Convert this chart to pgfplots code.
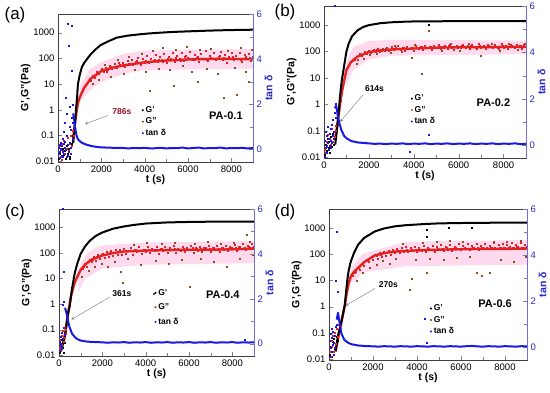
\documentclass[border=0pt]{standalone}
\usepackage{pgfplots}
\pgfplotsset{compat=1.18}
\usepackage{fontspec}
\setmainfont{Liberation Sans}
\definecolor{gred}{RGB}{228,32,32}
\definecolor{gbrown}{RGB}{140,80,30}
\definecolor{tblue}{RGB}{25,25,225}
\definecolor{pinkb}{RGB}{255,208,232}
\definecolor{axblue}{RGB}{110,110,230}
\definecolor{lblue}{RGB}{40,40,200}
\definecolor{dmaroon}{RGB}{150,20,40}
\pgfplotsset{
 Lax/.style={scale only axis, xmin=0, xmax=9000, ymin=0.0093, ymax=5300,
  ytick={0.01,0.1,1,10,100,1000}, yticklabels={0.01,0.1,1,10,100,1000}, yminorticks=false,
  xtick={0,2000,4000,6000,8000}, xticklabels={0,2000,4000,6000,8000}, minor x tick num=1, tick align=inside,
  xtick pos=left, ytick pos=left,
  axis line style={black!75},
  xlabel={\bfseries t (s)}, ylabel={\bfseries G',G''(Pa)},
  ticklabel style={font=\fontsize{9.5}{10}\selectfont},
  label style={font=\fontsize{10.5}{12}\selectfont},
  xlabel style={yshift=4pt}, ylabel style={yshift=-4pt},
  legend cell align=left,
  legend style={draw=none, fill=none, font=\bfseries\fontsize{8.5}{10}\selectfont, inner sep=0pt}},
 Rax/.style={scale only axis, xmin=0, xmax=9000, ymin=-0.55, ymax=6,
  axis y line*=right, axis x line=none, ytick={0,2,4,6}, yticklabels={0,2,4,6}, minor y tick num=1, tick align=inside,
  y axis line style={axblue},
  yticklabel style={lblue, font=\fontsize{9.5}{10}\selectfont},
  ylabel={\bfseries tan δ}, ylabel style={lblue, font=\fontsize{10.5}{12}\selectfont, yshift=4pt}},
 sc/.style={only marks, mark=square*, mark size=0.5pt, forget plot},
 thk/.style={no marks, line join=round, forget plot},
 band/.style={fill=pinkb, draw=none, forget plot, opacity=0.8},
 lgi/.style={only marks, mark=*, mark size=0.8pt},
}
\begin{document}
\begin{tikzpicture}
\useasboundingbox (0pt,0pt) rectangle (550pt,-392pt);
% ================= (a)
\begin{semilogyaxis}[Lax, at={(58pt,-14pt)}, anchor=north west, width=195pt, height=148pt,
 legend style={at={(0.43,0.39)}, anchor=north west}]
\addplot[band] coordinates {(1000,8) (1500,40) (2000,70) (3000,150) (4000,200) (9000,230) (9000,40) (4000,35) (3000,25) (2000,12) (1500,6) (1000,2)};
\addplot[sc, black] coordinates {(50,0.012) (100,0.02) (150,0.015) (200,0.03) (250,0.018) (300,0.025) (350,0.012) (400,0.04) (450,0.02) (500,0.03) (550,0.015) (600,0.035) (650,0.05) (700,0.06) (620,0.1) (520,0.012)};
\addplot[sc, gred] coordinates {(30,0.02) (80,0.04) (130,0.015) (180,0.05) (230,0.025) (280,0.06) (330,0.02) (380,0.03) (430,0.08) (480,0.025) (530,0.05) (580,0.1) (630,0.04) (680,0.15) (720,0.1) (160,0.011)};
\addplot[thk, gred, line width=2.4pt] coordinates {(700,0.08) (786,0.3) (850,0.8) (920,1.8) (1000,3) (1200,7) (1500,16) (2000,32) (2500,43) (3000,53) (4000,70) (5000,82) (6000,90) (7000,95) (8000,95) (9000,92)};
\addplot[sc, gred] coordinates {(1500,14) (1600,22) (1700,18) (1800,30) (1900,26) (2000,40) (2100,30) (2200,45) (2300,36) (2400,52) (2500,40) (2600,60) (2700,45) (2800,70) (2900,50) (3000,65) (3100,48) (3200,80) (3300,55) (3400,90) (3500,60) (3600,75) (3700,110) (3800,58) (3900,95) (4000,70) (4100,130) (4200,65) (4300,100) (4400,80) (4500,140) (4600,72) (4700,115) (4800,85) (4900,150) (5000,70) (5100,120) (5200,95) (5300,160) (5400,75) (5500,125) (5600,100) (5700,170) (5800,80) (5900,130) (6000,105) (6100,180) (6200,85) (6300,140) (6400,110) (6500,75) (6600,150) (6700,95) (6800,190) (6900,80) (7000,130) (7100,100) (7200,160) (7300,85) (7400,120) (7500,175) (7600,90) (7700,140) (7800,70) (7900,115) (8000,160) (8100,85) (8200,125) (8300,100) (8400,170) (8500,75) (8600,135) (8700,95) (8800,150) (8900,80) (9000,120)};
\addplot[sc, gred] coordinates {(1650,20) (1850,28) (2050,35) (2250,30) (2450,48) (2650,42) (2850,58) (3050,50) (3250,62) (3450,55) (3650,80) (3850,66) (4050,78) (4250,72) (4450,92) (4650,85) (4850,75) (5050,98) (5250,88) (5450,105) (5650,82) (5850,115) (6050,95) (6250,88) (6450,120) (6650,100) (6850,92) (7050,110) (7250,98) (7450,125) (7650,105) (7850,95) (8050,115) (8250,100) (8450,90) (8650,120) (8850,105) (8950,98)};
\addplot[sc, gbrown] coordinates {(1600,10) (1900,15) (2150,55) (2450,20) (2750,90) (3050,25) (3250,120) (3550,35) (3850,150) (4050,30) (4250,5.5) (4350,200) (4650,40) (4850,250) (5150,35) (5350,9) (5450,220) (5750,50) (5950,280) (6150,30) (6450,12) (6550,210) (6850,40) (7050,240) (7350,25) (7650,3) (7850,200) (8150,45) (8250,4) (8450,260) (8650,30) (8800,12) (8950,220)};
\addplot[thk, black, line width=2pt] coordinates {(700,0.05) (740,0.1) (786,0.3) (830,1) (880,3) (920,10) (1000,22) (1100,45) (1200,65) (1365,100) (1500,140) (1700,210) (1950,320) (2300,450) (2714,640) (3200,760) (3600,830) (4000,900) (4500,970) (5000,1030) (5500,1080) (6000,1120) (6500,1160) (7000,1200) (7500,1230) (8000,1260) (8500,1280) (9000,1300)};
\draw[->, >=stealth, black!55, thin] (axis cs:2300,0.6) -- (axis cs:1250,0.28);
\node[font=\bfseries\fontsize{8.5}{10}\selectfont, text=dmaroon] at (axis cs:2950,0.85) {786s};
\node[font=\bfseries\fontsize{11}{12}\selectfont] at (axis cs:7750,0.6) {PA-0.1};
\addlegendimage{lgi, black}\addlegendentry{G'}
\addlegendimage{lgi, gbrown}\addlegendentry{G''}
\addlegendimage{lgi, tblue}\addlegendentry{tan δ}
\end{semilogyaxis}
\begin{axis}[Rax, at={(58pt,-14pt)}, anchor=north west, width=195pt, height=148pt]
\addplot[sc, tblue] coordinates {(20,-0.2) (40,0.1) (60,-0.35) (80,0.2) (100,-0.1) (120,0.3) (140,0.0) (160,-0.25) (180,0.15) (200,0.5) (220,-0.1) (240,0.25) (260,0.8) (280,-0.2) (300,0.1) (320,1.2) (340,0.0) (360,2.3) (380,-0.3) (400,0.6) (420,1.6) (440,0.2) (460,5.55) (480,-0.1) (500,4.6) (520,1.0) (540,0.3) (560,1.9) (580,-0.2) (600,0.9) (613,3.5) (630,1.4) (640,5.5) (660,0.5) (680,2.0) (700,1.2) (110,0.05) (210,-0.3) (310,0.35) (450,-0.25) (590,0.1)};
\addplot[thk, tblue, line width=2pt] coordinates {(700,1.6) (750,1.3) (786,1.0) (830,0.75) (874,0.55) (950,0.42) (1104,0.3) (1300,0.22) (1487,0.17) (1700,0.13) (1947,0.1) (2500,0.08) (3000,0.07) (3250,0.05) (3500,0.07) (3750,0.06) (4000,0.08) (4250,0.05) (4500,0.06) (4750,0.08) (5000,0.05) (5250,0.07) (5500,0.06) (5750,0.09) (6000,0.05) (6250,0.07) (6500,0.09) (6750,0.05) (7000,0.07) (7250,0.06) (7500,0.09) (7750,0.05) (8000,0.07) (8250,0.06) (8500,0.08) (8750,0.05) (9000,0.07)};
\end{axis}
% ================= (b)
\begin{semilogyaxis}[Lax, at={(324pt,-6pt)}, anchor=north west, width=202pt, height=152pt,
 legend style={at={(0.43,0.43)}, anchor=north west}]
\addplot[band] coordinates {(1000,40) (1300,150) (2000,250) (3000,280) (9000,260) (9000,80) (3000,70) (2000,50) (1300,20) (1000,5)};
\addplot[sc, black] coordinates {(30,0.012) (70,0.03) (110,0.018) (150,0.05) (190,0.022) (230,0.04) (270,0.015) (310,0.06) (350,0.025) (390,0.08) (430,0.03) (470,0.05) (510,0.1) (4680,1000)};
\addplot[sc, gred] coordinates {(20,0.02) (60,0.015) (100,0.04) (140,0.025) (180,0.07) (220,0.02) (260,0.05) (300,0.03) (340,0.12) (380,0.04) (420,0.09) (460,0.06) (500,0.15) (540,0.1)};
\addplot[thk, gred, line width=2.4pt] coordinates {(500,0.05) (614,0.22) (700,0.8) (800,3) (900,8) (1000,20) (1200,40) (1500,65) (2000,95) (2500,110) (3000,120) (4000,130) (5000,140) (6000,145) (7000,145) (8000,150) (9000,150)};
\addplot[sc, gred] coordinates {(1300,45) (1400,60) (1500,50) (1600,80) (1700,70) (1800,95) (1900,80) (2000,110) (2100,90) (2200,120) (2300,95) (2400,130) (2500,100) (2600,125) (2700,105) (2800,140) (2900,110) (3000,150) (3100,115) (3200,135) (3300,160) (3400,120) (3500,145) (3600,105) (3700,155) (3800,125) (3900,140) (4000,110) (4100,165) (4200,130) (4300,150) (4400,115) (4500,170) (4600,135) (4700,155) (4800,120) (4900,160) (5000,140) (5100,175) (5200,125) (5300,150) (5400,165) (5500,130) (5600,180) (5700,145) (5800,120) (5900,170) (6000,150) (6100,135) (6200,185) (6300,140) (6400,160) (6500,125) (6600,175) (6700,150) (6800,130) (6900,190) (7000,145) (7100,165) (7200,125) (7300,180) (7400,150) (7500,135) (7600,175) (7700,155) (7800,130) (7900,190) (8000,145) (8100,170) (8200,125) (8300,185) (8400,150) (8500,135) (8600,180) (8700,160) (8800,130) (8900,175) (9000,150)};
\addplot[sc, gred] coordinates {(1350,50) (1550,70) (1750,85) (1950,100) (2150,105) (2350,115) (2550,110) (2750,125) (2950,120) (3150,130) (3350,125) (3550,140) (3750,130) (3950,145) (4150,135) (4350,150) (4550,140) (4750,155) (4950,145) (5150,150) (5350,140) (5550,160) (5750,150) (5950,145) (6150,160) (6350,150) (6550,165) (6750,145) (6950,160) (7150,150) (7350,165) (7550,155) (7750,145) (7950,165) (8150,155) (8350,160) (8550,150) (8750,170) (8950,155)};
\addplot[sc, gbrown] coordinates {(1450,35) (1750,55) (2050,75) (2350,85) (2650,115) (2950,90) (3150,170) (3450,95) (3900,60) (4350,14) (4680,600) (4050,180) (5250,105) (5650,190) (6050,110) (6450,200) (7000,70) (7450,190) (7850,110) (8250,200) (8650,115) (8950,190)};
\addplot[thk, black, line width=2pt] coordinates {(500,0.03) (560,0.08) (614,0.22) (650,0.5) (700,1.5) (750,4) (800,9) (850,16) (900,30) (1000,100) (1100,200) (1250,380) (1500,640) (1750,850) (2000,1000) (2500,1180) (3000,1280) (3500,1340) (4000,1380) (5000,1400) (6000,1410) (7000,1420) (8000,1420) (9000,1430)};
\draw[->, >=stealth, black!55, thin] (axis cs:1743,2.3) -- (axis cs:720,0.22);
\node[font=\bfseries\fontsize{8.5}{10}\selectfont] at (axis cs:2250,3.9) {614s};
\node[font=\bfseries\fontsize{11}{12}\selectfont] at (axis cs:7550,1.15) {PA-0.2};
\addlegendimage{lgi, black}\addlegendentry{G'}
\addlegendimage{lgi, gbrown}\addlegendentry{G''}
\addlegendimage{lgi, tblue}\addlegendentry{tan δ}
\end{semilogyaxis}
\begin{axis}[Rax, at={(324pt,-6pt)}, anchor=north west, width=202pt, height=152pt]
\addplot[sc, tblue] coordinates {(20,-0.5) (40,0.2) (60,-0.1) (80,0.6) (100,0.0) (120,-0.3) (140,0.4) (160,0.1) (180,0.8) (200,-0.2) (220,0.3) (240,0.0) (260,0.5) (280,-0.1) (300,0.7) (320,0.2) (340,0.9) (360,0.1) (380,0.4) (400,1.1) (420,0.3) (440,0.6) (460,1.4) (480,6.0) (500,1.8) (520,1.2) (3830,-0.26) (4680,0.46)};
\addplot[thk, tblue, line width=2pt] coordinates {(480,1.6) (540,1.7) (580,1.5) (614,1.25) (700,0.9) (775,0.65) (900,0.4) (1000,0.3) (1220,0.18) (1500,0.12) (2000,0.08) (2250,0.06) (2500,0.07) (2750,0.05) (3000,0.07) (3250,0.06) (3500,0.08) (3750,0.05) (4000,0.07) (4250,0.06) (4500,0.08) (4750,0.05) (5000,0.07) (5250,0.06) (5500,0.08) (5750,0.05) (6000,0.07) (6250,0.06) (6500,0.08) (6750,0.05) (7000,0.07) (7250,0.06) (7500,0.08) (7750,0.05) (8000,0.07) (8250,0.06) (8500,0.08) (8750,0.05) (9000,0.06)};
\end{axis}
% ================= (c)
\begin{semilogyaxis}[Lax, at={(59pt,-209pt)}, anchor=north west, width=195pt, height=147pt,
 legend style={at={(0.49,0.47)}, anchor=north west, row sep=3pt}]
\addplot[band] coordinates {(900,20) (1200,80) (1600,150) (2000,200) (4000,260) (9000,300) (9000,40) (4000,35) (2000,25) (1200,10) (900,3)};
\addplot[sc, black] coordinates {(30,0.012) (60,0.025) (90,0.015) (120,0.04) (150,0.02) (180,0.03) (210,0.012) (240,0.05) (270,0.03) (300,0.07)};
\addplot[sc, gred] coordinates {(20,0.02) (50,0.04) (80,0.015) (110,0.06) (140,0.025) (170,0.09) (200,0.035) (230,0.05) (260,0.12) (290,0.07) (320,0.1)};
\addplot[thk, gred, line width=2.4pt] coordinates {(200,0.03) (300,0.08) (361,0.2) (450,0.6) (550,2) (700,6) (850,12) (1000,22) (1200,35) (1500,55) (2000,80) (2500,100) (3000,115) (4000,125) (5000,130) (6000,135) (7000,135) (8000,140) (9000,150)};
\addplot[sc, gred] coordinates {(1100,25) (1200,40) (1300,30) (1400,55) (1500,45) (1600,70) (1700,50) (1800,85) (1900,60) (2000,95) (2100,65) (2200,110) (2300,75) (2400,120) (2500,80) (2600,130) (2700,90) (2800,140) (2900,85) (3000,150) (3100,95) (3200,120) (3300,160) (3400,90) (3500,135) (3600,110) (3700,170) (3800,95) (3900,140) (4000,115) (4100,180) (4200,100) (4300,145) (4400,120) (4500,175) (4600,95) (4700,150) (4800,125) (4900,185) (5000,105) (5100,155) (5200,130) (5300,190) (5400,100) (5500,150) (5600,125) (5700,180) (5800,110) (5900,160) (6000,135) (6100,195) (6200,105) (6300,155) (6400,125) (6500,185) (6600,110) (6700,160) (6800,135) (6900,200) (7000,115) (7100,165) (7200,140) (7300,190) (7400,110) (7500,160) (7600,130) (7700,200) (7800,120) (7900,170) (8000,145) (8100,210) (8200,125) (8300,175) (8400,150) (8500,230) (8600,130) (8700,190) (8800,160) (8900,240) (9000,170)};
\addplot[sc, gred] coordinates {(1150,30) (1350,45) (1550,55) (1750,70) (1950,85) (2150,90) (2350,100) (2550,105) (2750,115) (2950,110) (3150,125) (3350,120) (3550,130) (3750,125) (3950,135) (4150,130) (4350,140) (4550,130) (4750,145) (4950,135) (5150,140) (5350,150) (5550,135) (5750,150) (5950,140) (6150,155) (6350,145) (6550,150) (6750,160) (6950,145) (7150,155) (7350,150) (7550,165) (7750,150) (7950,160) (8150,155) (8350,170) (8550,160) (8750,175) (8950,165)};
\addplot[sc, gbrown] coordinates {(1050,12) (1350,20) (1650,30) (1950,40) (2250,28) (2550,45) (2960,6.8) (2850,18) (3150,60) (3450,210) (3750,35) (4050,250) (4392,2.5) (4450,50) (4750,230) (5050,40) (5350,260) (5650,55) (6041,4.8) (6250,240) (6550,60) (6850,270) (7150,45) (7450,230) (7750,30) (8050,250) (8350,60) (8660,520) (8800,280) (8950,90)};
\addplot[thk, black, line width=2pt] coordinates {(100,0.015) (200,0.03) (300,0.08) (361,0.2) (420,0.45) (500,0.9) (600,4) (724,16) (850,40) (1000,93) (1200,180) (1418,300) (1700,470) (2003,640) (2500,900) (3000,1100) (3420,1250) (4000,1430) (5000,1580) (6000,1650) (7000,1690) (8000,1700) (9000,1710)};
\draw[->, >=stealth, black!55, thin] (axis cs:2342,1.9) -- (axis cs:570,0.25);
\node[font=\bfseries\fontsize{8.5}{10}\selectfont] at (axis cs:2900,2.6) {361s};
\node[font=\bfseries\fontsize{11}{12}\selectfont] at (axis cs:7560,2.4) {PA-0.4};
\addlegendimage{lgi, black}\addlegendentry{G'}
\addlegendimage{lgi, gbrown}\addlegendentry{G''}
\addlegendimage{lgi, tblue}\addlegendentry{tan δ}
\end{semilogyaxis}
\begin{axis}[Rax, at={(59pt,-209pt)}, anchor=north west, width=195pt, height=147pt]
\addplot[sc, tblue] coordinates {(20,-0.3) (40,0.1) (60,-0.1) (80,0.3) (100,0.0) (120,0.5) (140,-0.2) (154,1.75) (170,0.2) (185,6.0) (200,0.7) (216,3.2) (230,1.85) (250,0.4) (8590,0.19)};
\addplot[thk, tblue, line width=2pt] coordinates {(280,1.6) (361,1.3) (420,1.0) (500,0.7) (600,0.45) (724,0.3) (850,0.2) (1000,0.14) (1300,0.09) (1700,0.07) (2000,0.06) (2250,0.04) (2500,0.06) (2750,0.05) (3000,0.07) (3250,0.04) (3500,0.06) (3750,0.05) (4000,0.07) (4250,0.04) (4500,0.06) (4750,0.05) (5000,0.07) (5250,0.04) (5500,0.06) (5750,0.05) (6000,0.07) (6250,0.04) (6500,0.06) (6750,0.05) (7000,0.07) (7250,0.04) (7500,0.06) (7750,0.05) (8000,0.07) (8250,0.04) (8500,0.06) (8750,0.05) (9000,0.06)};
\end{axis}
% ================= (d)
\begin{semilogyaxis}[Lax, at={(329pt,-209pt)}, anchor=north west, width=198pt, height=151pt,
 legend style={at={(0.51,0.38)}, anchor=north west}]
\addplot[band] coordinates {(1000,30) (1300,60) (1500,100) (3500,300) (9000,350) (9000,40) (3500,35) (1500,20) (1300,12) (1000,8)};
\addplot[sc, black] coordinates {(30,0.015) (70,0.03) (110,0.012) (150,0.045) (190,0.02) (230,0.06) (270,0.025) (310,0.04) (350,0.07) (390,0.05) (4440,860) (4440,480) (5430,1060) (6490,1000)};
\addplot[sc, gred] coordinates {(20,0.02) (60,0.012) (100,0.05) (140,0.03) (180,0.08) (220,0.02) (260,0.1) (300,0.04) (340,0.15) (380,0.07) (420,0.2)};
\addplot[thk, gred, line width=2.4pt] coordinates {(300,0.02) (410,0.06) (560,0.25) (715,1.1) (800,3) (900,8) (1000,15) (1150,22) (1323,30) (1600,50) (2083,90) (2500,110) (3000,127) (4000,140) (5000,150) (6000,155) (7000,160) (8000,160) (9000,165)};
\addplot[sc, gred] coordinates {(1100,15) (1200,22) (1300,30) (1400,25) (1500,45) (1600,38) (1700,60) (1800,50) (1900,75) (2000,60) (2100,95) (2200,70) (2300,110) (2400,80) (2500,120) (2600,90) (2700,140) (2800,100) (2900,150) (3000,110) (3100,165) (3200,115) (3300,180) (3400,120) (3500,190) (3600,125) (3700,170) (3800,135) (3900,200) (4000,120) (4100,180) (4200,140) (4300,210) (4400,125) (4500,185) (4600,145) (4700,220) (4800,130) (4900,190) (5000,150) (5100,230) (5200,135) (5300,195) (5400,155) (5500,240) (5600,140) (5700,200) (5800,160) (5900,250) (6000,145) (6100,205) (6200,165) (6300,255) (6400,150) (6500,210) (6600,170) (6700,260) (6800,155) (6900,215) (7000,175) (7100,250) (7200,160) (7300,220) (7400,180) (7500,265) (7600,165) (7700,225) (7800,185) (7900,260) (8000,170) (8100,230) (8200,190) (8300,270) (8400,175) (8500,235) (8600,195) (8700,280) (8800,180) (8900,240) (9000,200)};
\addplot[sc, gred] coordinates {(1150,20) (1350,32) (1550,42) (1750,55) (1950,80) (2150,90) (2350,100) (2550,115) (2750,120) (2950,130) (3150,135) (3350,140) (3550,145) (3750,150) (3950,145) (4150,155) (4350,150) (4550,160) (4750,155) (4950,165) (5150,160) (5350,170) (5550,160) (5750,175) (5950,165) (6150,170) (6350,165) (6550,180) (6750,170) (6950,175) (7150,170) (7350,185) (7550,175) (7750,180) (7950,170) (8150,185) (8350,175) (8550,190) (8750,180) (8950,185)};
\addplot[sc, gbrown] coordinates {(1250,10) (1550,20) (1850,30) (2150,40) (2450,55) (2750,45) (3050,70) (3350,250) (3679,4.5) (3755,11.6) (3950,60) (4250,280) (4440,20) (4600,70) (4900,300) (5200,60) (5500,320) (5800,75) (6100,300) (6400,80) (6700,20) (6950,15) (7300,20) (7500,290) (7800,60) (8100,310) (8400,50) (8700,330) (8950,80)};
\addplot[thk, black, line width=2pt] coordinates {(300,0.02) (410,0.08) (560,0.26) (650,0.6) (715,1.1) (780,4) (836,11) (900,25) (988,52) (1150,120) (1323,230) (1600,420) (2083,740) (2500,960) (2995,1160) (3500,1280) (4363,1420) (5000,1500) (6000,1550) (7000,1580) (8000,1600) (9000,1600)};
\draw[->, >=stealth, black!55, thin] (axis cs:2083,4.9) -- (axis cs:760,1.1);
\node[font=\bfseries\fontsize{8.5}{10}\selectfont] at (axis cs:2700,7.1) {270s};
\node[font=\bfseries\fontsize{11}{12}\selectfont] at (axis cs:7550,1.3) {PA-0.6};
\addlegendimage{lgi, black}\addlegendentry{G'}
\addlegendimage{lgi, gbrown}\addlegendentry{G''}
\addlegendimage{lgi, tblue}\addlegendentry{tan δ}
\end{semilogyaxis}
\begin{axis}[Rax, at={(329pt,-209pt)}, anchor=north west, width=198pt, height=151pt]
\addplot[sc, tblue] coordinates {(20,0.3) (40,-0.4) (60,0.6) (80,0.0) (100,0.8) (120,-0.2) (140,0.4) (160,0.1) (182,0.68) (200,-0.3) (220,0.2) (240,0.5) (260,0.0) (289,2.87) (310,0.9) (334,5.0) (350,1.0) (410,2.4) (4363,1.22) (4440,0.22)};
\addplot[thk, tblue, line width=2pt] coordinates {(350,1.2) (410,1.5) (460,1.2) (562,0.6) (700,0.32) (867,0.2) (1000,0.14) (1323,0.08) (1700,0.05) (2000,0.045) (2250,0.03) (2500,0.05) (2750,0.04) (3000,0.03) (3250,0.05) (3500,0.04) (3750,0.03) (4000,0.05) (4250,0.04) (4500,0.03) (4750,0.05) (5000,0.04) (5250,0.03) (5500,0.05) (5750,0.04) (6000,0.03) (6250,0.05) (6500,0.06) (6750,0.04) (7000,0.03) (7250,0.05) (7500,0.04) (7750,0.03) (8000,0.05) (8250,0.04) (8500,0.03) (8750,0.05) (9000,0.04)};
\end{axis}
% panel labels
\node[font=\fontsize{17}{20}\selectfont] at (15pt,-15pt) {(a)};
\node[font=\fontsize{17}{20}\selectfont] at (285pt,-12pt) {(b)};
\node[font=\fontsize{17}{20}\selectfont] at (15pt,-212pt) {(c)};
\node[font=\fontsize{17}{20}\selectfont] at (285pt,-212pt) {(d)};
\end{tikzpicture}
\end{document}
